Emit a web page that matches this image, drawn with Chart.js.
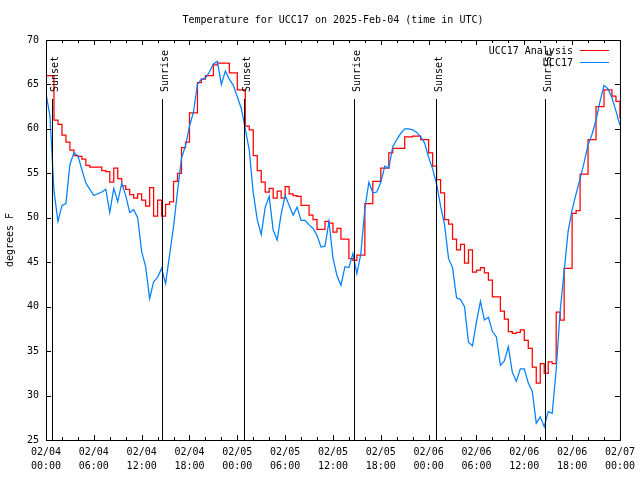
<!DOCTYPE html>
<html>
<head>
<meta charset="utf-8">
<title>Temperature for UCC17</title>
<script src="https://cdn.jsdelivr.net/npm/chart.js@4.4.1/dist/chart.umd.min.js"></script>
<style>
  html, body { margin: 0; padding: 0; background: #fff; }
</style>
</head>
<body>
<canvas id="temp-chart" width="640" height="480"></canvas>
<script>
(function () {
  'use strict';

  const TITLE = 'Temperature for UCC17 on 2025-Feb-04 (time in UTC)';
  const Y_LABEL = 'degrees F';

  // one reading every half hour, starting 02/04 00:00 UTC
  const STEP_HOURS = 0.5;

  const X_TICK_DATES = ['02/04', '02/04', '02/04', '02/04', '02/05', '02/05', '02/05',
    '02/05', '02/06', '02/06', '02/06', '02/06', '02/07'];
  const X_TICK_TIMES = ['00:00', '06:00', '12:00', '18:00', '00:00', '06:00', '12:00',
    '18:00', '00:00', '06:00', '12:00', '18:00', '00:00'];

  const ANALYSIS_LABEL = 'UCC17 Analysis';
  const ANALYSIS_TEMPS = [
    66.0, 66.0, 61.0, 60.5, 59.3, 58.5, 57.6, 57.0, 56.9, 56.6, 55.9, 55.7,
    55.7, 55.7, 55.3, 55.2, 54.0, 55.6, 54.4, 53.6, 53.2, 52.6, 52.2, 52.7,
    52.0, 51.3, 53.4, 50.2, 52.0, 50.2, 51.5, 51.8, 54.1, 55.0, 57.9, 58.5,
    61.8, 61.8, 65.2, 65.6, 66.0, 66.0, 67.2, 67.4, 67.4, 67.4, 66.3, 66.3,
    64.4, 64.4, 60.3, 59.9, 57.0, 55.3, 54.0, 52.9, 53.3, 52.2, 53.0, 52.2,
    53.5, 52.7, 52.5, 52.4, 51.4, 51.4, 50.3, 49.8, 48.7, 48.7, 49.6, 49.4,
    48.4, 48.8, 47.6, 47.6, 45.4, 45.2, 45.8, 45.8, 51.6, 51.6, 54.1, 54.1,
    55.6, 55.6, 57.3, 57.8, 57.8, 57.8, 59.1, 59.1, 59.2, 59.2, 58.8, 58.8,
    57.3, 55.8, 54.3, 52.8, 49.8, 49.3, 47.6, 46.4, 47.0, 44.9, 46.4, 43.9,
    44.1, 44.4, 43.8, 43.0, 41.1, 41.1, 39.5, 38.6, 37.2, 37.0, 37.1, 37.4,
    36.2, 35.3, 33.2, 31.4, 33.6, 32.5, 33.8, 33.6, 39.4, 38.5, 44.3, 44.3,
    50.5, 50.8, 54.9, 54.9, 58.8, 58.8, 62.5, 62.5, 64.4, 64.4, 63.7, 63.1,
    61.2
  ];

  const STATION_LABEL = 'UCC17';
  const STATION_TEMPS = [
    64.0, 61.4, 53.0, 49.6, 51.4, 51.6, 56.0, 57.3, 57.0, 55.4, 53.9, 53.2,
    52.5, 52.7, 52.9, 53.2, 50.6, 53.3, 51.8, 53.9, 52.5, 50.6, 50.9, 50.0,
    46.2, 44.5, 40.9, 42.8, 43.3, 44.3, 42.6, 45.8, 49.0, 53.0, 56.7, 58.1,
    60.3, 61.9, 65.0, 65.6, 65.7, 66.4, 67.3, 67.6, 65.0, 66.5, 65.6, 64.9,
    63.6, 62.3, 60.0, 57.6, 52.8, 49.8, 48.1, 51.2, 52.4, 48.6, 47.5, 50.4,
    52.5, 51.4, 50.3, 51.2, 49.7, 49.7, 49.2, 48.8, 48.0, 46.7, 46.8, 49.6,
    45.5, 43.5, 42.4, 44.5, 44.4, 46.0, 43.7, 46.0, 51.0, 54.0, 52.8, 52.9,
    54.0, 55.8, 55.6, 58.0, 58.8, 59.5, 60.0, 60.0, 59.9, 59.6, 59.1, 58.4,
    56.8, 55.5, 53.8, 51.3, 49.2, 45.4, 44.4, 41.0, 40.8, 40.0, 36.0, 35.6,
    38.3, 40.6, 38.5, 38.8, 37.2, 36.6, 33.4, 33.9, 35.5, 32.6, 31.6, 33.0,
    33.0, 31.4, 30.5, 26.9, 27.6, 26.5, 28.2, 28.0, 32.9, 39.5, 44.0, 48.5,
    50.9, 52.7, 54.4, 56.2, 58.2, 59.4, 61.0, 63.1, 64.9, 64.5, 63.5, 62.0,
    60.4
  ];

  // hours after 02/04 00:00 UTC
  const SUN_HOURS = [0.77, 14.56, 24.83, 38.6, 48.87, 62.65];
  const SUN_LABELS = ['Sunset', 'Sunrise', 'Sunset', 'Sunrise', 'Sunset', 'Sunrise'];

  const FONT = "'DejaVu Sans Mono', 'Liberation Mono', monospace";

  function toPoints(values) {
    return values.map(function (v, i) { return { x: i * STEP_HOURS, y: v }; });
  }

  // gnuplot style box with inward ticks on all four sides
  const framePlugin = {
    id: 'frame',
    afterDatasetsDraw: function (chart) {
      const ctx = chart.ctx;
      const a = chart.chartArea;
      const x = chart.scales.x;
      const y = chart.scales.y;
      ctx.save();
      ctx.strokeStyle = '#000';
      ctx.lineWidth = 1;
      ctx.beginPath();
      x.ticks.forEach(function (t) {
        const px = Math.round(x.getPixelForValue(t.value)) + 0.5;
        const len = t.value % 6 === 0 ? 5 : 3;
        ctx.moveTo(px, a.bottom);
        ctx.lineTo(px, a.bottom - len);
        ctx.moveTo(px, a.top);
        ctx.lineTo(px, a.top + len);
      });
      y.ticks.forEach(function (t) {
        const py = Math.round(y.getPixelForValue(t.value)) + 0.5;
        ctx.moveTo(a.left, py);
        ctx.lineTo(a.left + 5, py);
        ctx.moveTo(a.right, py);
        ctx.lineTo(a.right - 5, py);
      });
      ctx.stroke();
      ctx.strokeRect(a.left + 0.5, a.top + 0.5, a.right - a.left, a.bottom - a.top);
      ctx.restore();
    }
  };

  // sunrise / sunset markers
  const sunPlugin = {
    id: 'sunMarks',
    afterDatasetsDraw: function (chart, args, opts) {
      const ctx = chart.ctx;
      const a = chart.chartArea;
      const x = chart.scales.x;
      const top = a.top + opts.offsetTop;
      ctx.save();
      ctx.strokeStyle = '#000';
      ctx.fillStyle = '#000';
      ctx.lineWidth = 1;
      ctx.font = '10px ' + FONT;
      SUN_HOURS.forEach(function (h, i) {
        const px = Math.round(x.getPixelForValue(h)) + 0.5;
        ctx.beginPath();
        ctx.moveTo(px, top);
        ctx.lineTo(px, a.bottom);
        ctx.stroke();
        ctx.save();
        ctx.translate(px + 5, top - 7);
        ctx.rotate(-Math.PI / 2);
        ctx.textAlign = 'left';
        ctx.textBaseline = 'alphabetic';
        ctx.fillText(SUN_LABELS[i], 0, 0);
        ctx.restore();
      });
      ctx.restore();
    }
  };

  // key in the top right corner: text first, sample line after it
  const keyPlugin = {
    id: 'key',
    afterDraw: function (chart) {
      const ctx = chart.ctx;
      const a = chart.chartArea;
      ctx.save();
      ctx.font = '10px ' + FONT;
      ctx.textAlign = 'right';
      ctx.textBaseline = 'middle';
      chart.data.datasets.forEach(function (ds, i) {
        const yy = Math.round(a.top + 9.5 + i * 12.5) + 0.5;
        ctx.fillStyle = '#000';
        ctx.fillText(ds.label, a.right - 47, yy + 1);
        ctx.strokeStyle = ds.borderColor;
        ctx.lineWidth = 1;
        ctx.beginPath();
        ctx.moveTo(a.right - 40, yy);
        ctx.lineTo(a.right - 11, yy);
        ctx.stroke();
      });
      ctx.restore();
    }
  };

  Chart.defaults.font.family = FONT;
  Chart.defaults.font.size = 10;
  Chart.defaults.color = '#000';

  new Chart(document.getElementById('temp-chart'), {
    type: 'line',
    data: {
      datasets: [
        {
          label: ANALYSIS_LABEL,
          data: toPoints(ANALYSIS_TEMPS),
          borderColor: '#ff0000',
          borderWidth: 1.25,
          pointRadius: 0,
          stepped: true,
          order: 1
        },
        {
          label: STATION_LABEL,
          data: toPoints(STATION_TEMPS),
          borderColor: '#0080ff',
          borderWidth: 1.25,
          pointRadius: 0,
          tension: 0,
          order: 0
        }
      ]
    },
    options: {
      responsive: false,
      animation: false,
      events: [],
      layout: { padding: { left: 0, right: 19, top: 0, bottom: 0 } },
      plugins: {
        legend: { display: false },
        tooltip: { enabled: false },
        title: {
          display: true,
          text: TITLE,
          fullSize: false,
          color: '#000',
          font: { size: 10, weight: 'normal', lineHeight: '10px' },
          padding: { top: 15, bottom: 15 }
        },
        sunMarks: { offsetTop: 59 }
      },
      scales: {
        x: {
          type: 'linear',
          min: 0,
          max: 72,
          grid: { display: false, drawTicks: false },
          border: { display: false },
          ticks: {
            stepSize: 2,
            autoSkip: false,
            maxRotation: 0,
            padding: 5,
            font: { size: 10, lineHeight: '14px' },
            callback: function (value) {
              if (value % 6 !== 0) return '';
              const i = value / 6;
              return [X_TICK_DATES[i], X_TICK_TIMES[i]];
            }
          },
          afterFit: function (scale) { scale.height = 40; }
        },
        y: {
          min: 25,
          max: 70,
          grid: { display: false, drawTicks: false },
          border: { display: false },
          ticks: { stepSize: 5, padding: 7, font: { size: 10 } },
          title: {
            display: true,
            text: Y_LABEL,
            font: { size: 10, lineHeight: '10px' },
            padding: { top: 5, bottom: 0 }
          },
          afterFit: function (scale) { scale.width = 46; }
        }
      }
    },
    plugins: [framePlugin, sunPlugin, keyPlugin]
  });
})();
</script>
</body>
</html>
